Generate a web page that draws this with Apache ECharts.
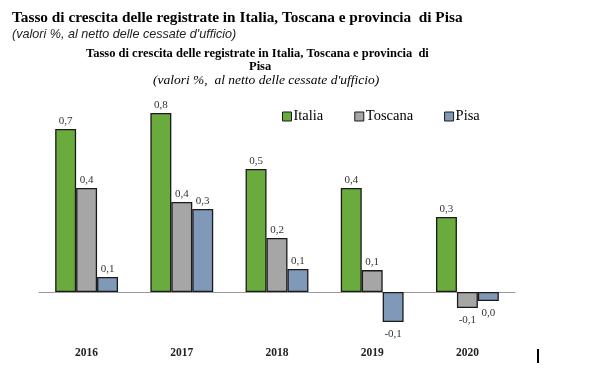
<!DOCTYPE html>
<html>
<head>
<meta charset="utf-8">
<script src="https://cdn.jsdelivr.net/npm/echarts@6/dist/echarts.min.js"></script>
<style>
html,body{margin:0;padding:0;background:#fff;}
#c{width:590px;height:380px;}
</style>
</head>
<body>
<div id="c"></div>
<script>
var categories = ['2016', '2017', '2018', '2019', '2020'];
var italia  = [0.685, 0.752, 0.517, 0.437, 0.315];
var toscana = [0.437, 0.378, 0.227, 0.092, -0.067];
var pisa    = [0.063, 0.349, 0.097, -0.126, -0.038];
var seriesNames = ['Italia', 'Toscana', 'Pisa'];
var colors = ['#6aab3e', '#a6a6a6', '#8099b9'];

function fmt(p) {
  var v = Math.round(p.value * 10) / 10;
  if (v === 0) v = 0;
  return v.toFixed(1).replace('.', ',');
}

function mk(name, data, color) {
  return {
    name: name,
    type: 'bar',
    data: data.map(function (v) {
      if (v < 0) return { value: v, label: { position: 'bottom', distance: 7 } };
      return v;
    }),
    barWidth: '22%',
    barGap: '0%',
    itemStyle: { color: color, borderColor: '#1a1a1a', borderWidth: 1.3 },
    label: {
      show: true,
      formatter: fmt,
      fontFamily: 'Liberation Serif',
      fontSize: 11,
      color: '#333',
      position: 'top',
      distance: 2
    }
  };
}

var series = [
  mk(seriesNames[0], italia, colors[0]),
  mk(seriesNames[1], toscana, colors[1]),
  mk(seriesNames[2], pisa, colors[2])
];

var chart = echarts.init(document.getElementById('c'), null, { renderer: 'canvas' });
chart.setOption({
  backgroundColor: '#fff',
  animation: false,
  title: [
    {
      text: 'Tasso di crescita delle registrate in Italia, Toscana e provincia  di Pisa',
      left: 12, top: 11, padding: 0,
      textStyle: { fontFamily: 'Liberation Serif', fontWeight: 'bold', fontSize: 15.3, color: '#000' }
    },
    {
      text: "(valori %, al netto delle cessate d'ufficio)",
      left: 12, top: 28, padding: 0,
      textStyle: { fontFamily: 'Liberation Sans', fontStyle: 'italic', fontWeight: 'normal', fontSize: 12.6, color: '#222' }
    },
    {
      text: 'Tasso di crescita delle registrate in Italia, Toscana e provincia  di',
      left: 86, top: 47.5, padding: 0,
      textStyle: { fontFamily: 'Liberation Serif', fontWeight: 'bold', fontSize: 12.5, color: '#000' }
    },
    {
      text: 'Pisa',
      left: 249, top: 60.5, padding: 0,
      textStyle: { fontFamily: 'Liberation Serif', fontWeight: 'bold', fontSize: 12.5, color: '#000' }
    },
    {
      text: "(valori %,  al netto delle cessate d'ufficio)",
      left: 153, top: 73.5, padding: 0,
      textStyle: { fontFamily: 'Liberation Serif', fontStyle: 'italic', fontWeight: 'normal', fontSize: 13.5, color: '#000' }
    }
  ],
  legend: {
    data: seriesNames,
    left: 282, top: 109, padding: 0,
    itemWidth: 9, itemHeight: 9,
    itemGap: 31,
    icon: 'rect',
    itemStyle: { borderColor: '#1a1a1a', borderWidth: 1 },
    textStyle: { fontFamily: 'Liberation Serif', fontSize: 14.5, color: '#000', padding: [0, 0, 0, -3] }
  },
  grid: { left: 39, right: 75, top: 101.6, bottom: 40.4 },
  xAxis: [
    {
      type: 'category',
      data: categories,
      axisLine: { onZero: true, lineStyle: { color: '#999', width: 1 } },
      axisTick: { show: false },
      axisLabel: { show: false }
    },
    {
      type: 'category',
      data: categories,
      position: 'bottom',
      axisLine: { show: false, onZero: false },
      axisTick: { show: false },
      axisLabel: { fontFamily: 'Liberation Serif', fontWeight: 'bold', fontSize: 11.5, color: '#222', margin: 7 }
    }
  ],
  yAxis: { type: 'value', min: -0.2, max: 0.8, show: false, splitLine: { show: false } },
  series: series,
  graphic: [
    { type: 'rect', left: 537, top: 349, shape: { width: 2, height: 14 }, style: { fill: '#000' } }
  ]
});
</script>
</body>
</html>
